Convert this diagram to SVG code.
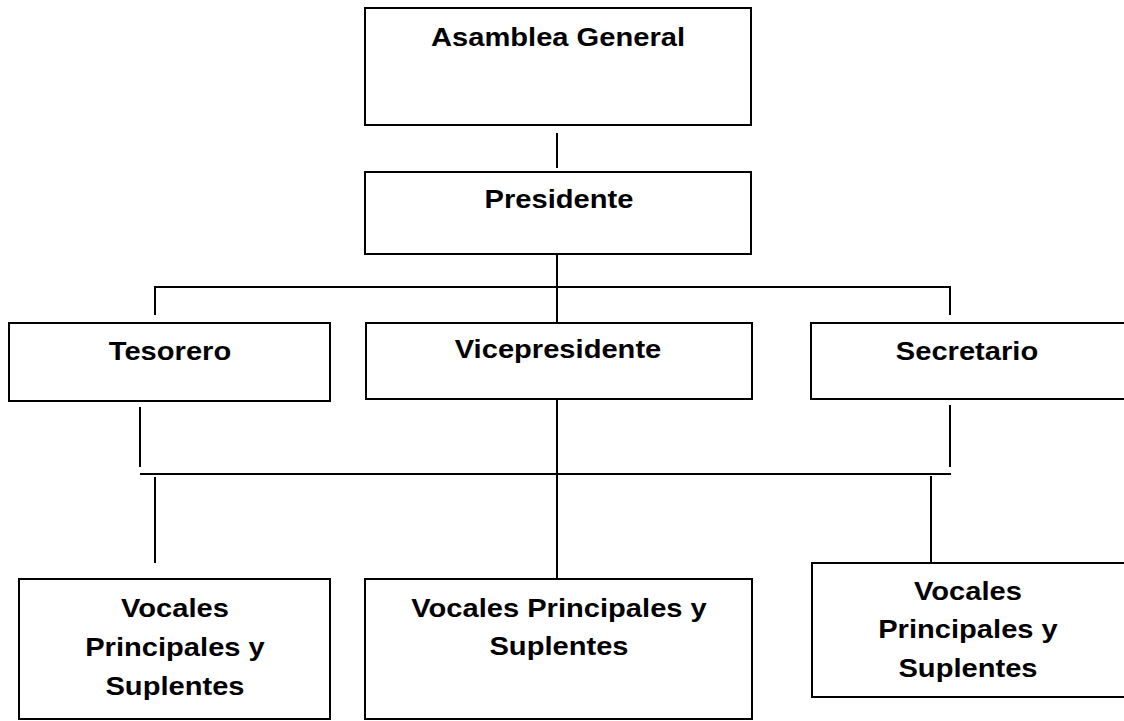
<svg xmlns="http://www.w3.org/2000/svg" width="1124" height="721" viewBox="0 0 1124 721">
<style>
.box{fill:#fff;stroke:#000;stroke-width:2}
.ln{stroke:#000;stroke-width:2;fill:none}
.t{font-family:"Liberation Sans",Arial,sans-serif;font-weight:bold;font-size:26px;fill:#000;text-anchor:middle}
</style>
<rect width="1124" height="721" fill="#fff"/>
<g id="connectors">
<line class="ln" x1="557" y1="133" x2="557" y2="168"/>
<line class="ln" x1="557" y1="254" x2="557" y2="322"/>
<line class="ln" x1="155" y1="287" x2="951" y2="287"/>
<line class="ln" x1="155" y1="286" x2="155" y2="315"/>
<line class="ln" x1="950" y1="286" x2="950" y2="315"/>
<line class="ln" x1="140" y1="407" x2="140" y2="467"/>
<line class="ln" x1="950" y1="405" x2="950" y2="467"/>
<line class="ln" x1="140" y1="474" x2="951" y2="474"/>
<line class="ln" x1="557" y1="400" x2="557" y2="579"/>
<line class="ln" x1="155" y1="477" x2="155" y2="563"/>
<line class="ln" x1="931" y1="476" x2="931" y2="563"/>
</g>
<g id="asamblea">
<rect class="box" x="365" y="8" width="386" height="117"/>
<text class="t" transform="translate(558,46) scale(1.12,1)">Asamblea General</text>
</g>
<g id="presidente">
<rect class="box" x="365" y="172" width="386" height="82"/>
<text class="t" transform="translate(559,208) scale(1.12,1)">Presidente</text>
</g>
<g id="tesorero">
<rect class="box" x="9" y="323" width="321" height="78"/>
<text class="t" transform="translate(170,360) scale(1.12,1)">Tesorero</text>
</g>
<g id="vicepresidente">
<rect class="box" x="366" y="323" width="386" height="76"/>
<text class="t" transform="translate(558,358) scale(1.12,1)">Vicepresidente</text>
</g>
<g id="secretario">
<rect class="box" x="811" y="323" width="320" height="76"/>
<text class="t" transform="translate(967,360) scale(1.12,1)">Secretario</text>
</g>
<g id="vocales-izq">
<rect class="box" x="19" y="579" width="311" height="140"/>
<text class="t" transform="translate(175,617) scale(1.12,1)">Vocales</text>
<text class="t" transform="translate(175,656) scale(1.12,1)">Principales y</text>
<text class="t" transform="translate(175,695) scale(1.12,1)">Suplentes</text>
</g>
<g id="vocales-centro">
<rect class="box" x="365" y="579" width="387" height="140"/>
<text class="t" transform="translate(559,617) scale(1.12,1)">Vocales Principales y</text>
<text class="t" transform="translate(559,655) scale(1.12,1)">Suplentes</text>
</g>
<g id="vocales-der">
<rect class="box" x="812" y="563" width="320" height="134"/>
<text class="t" transform="translate(968,600) scale(1.12,1)">Vocales</text>
<text class="t" transform="translate(968,638) scale(1.12,1)">Principales y</text>
<text class="t" transform="translate(968,677) scale(1.12,1)">Suplentes</text>
</g>
</svg>
